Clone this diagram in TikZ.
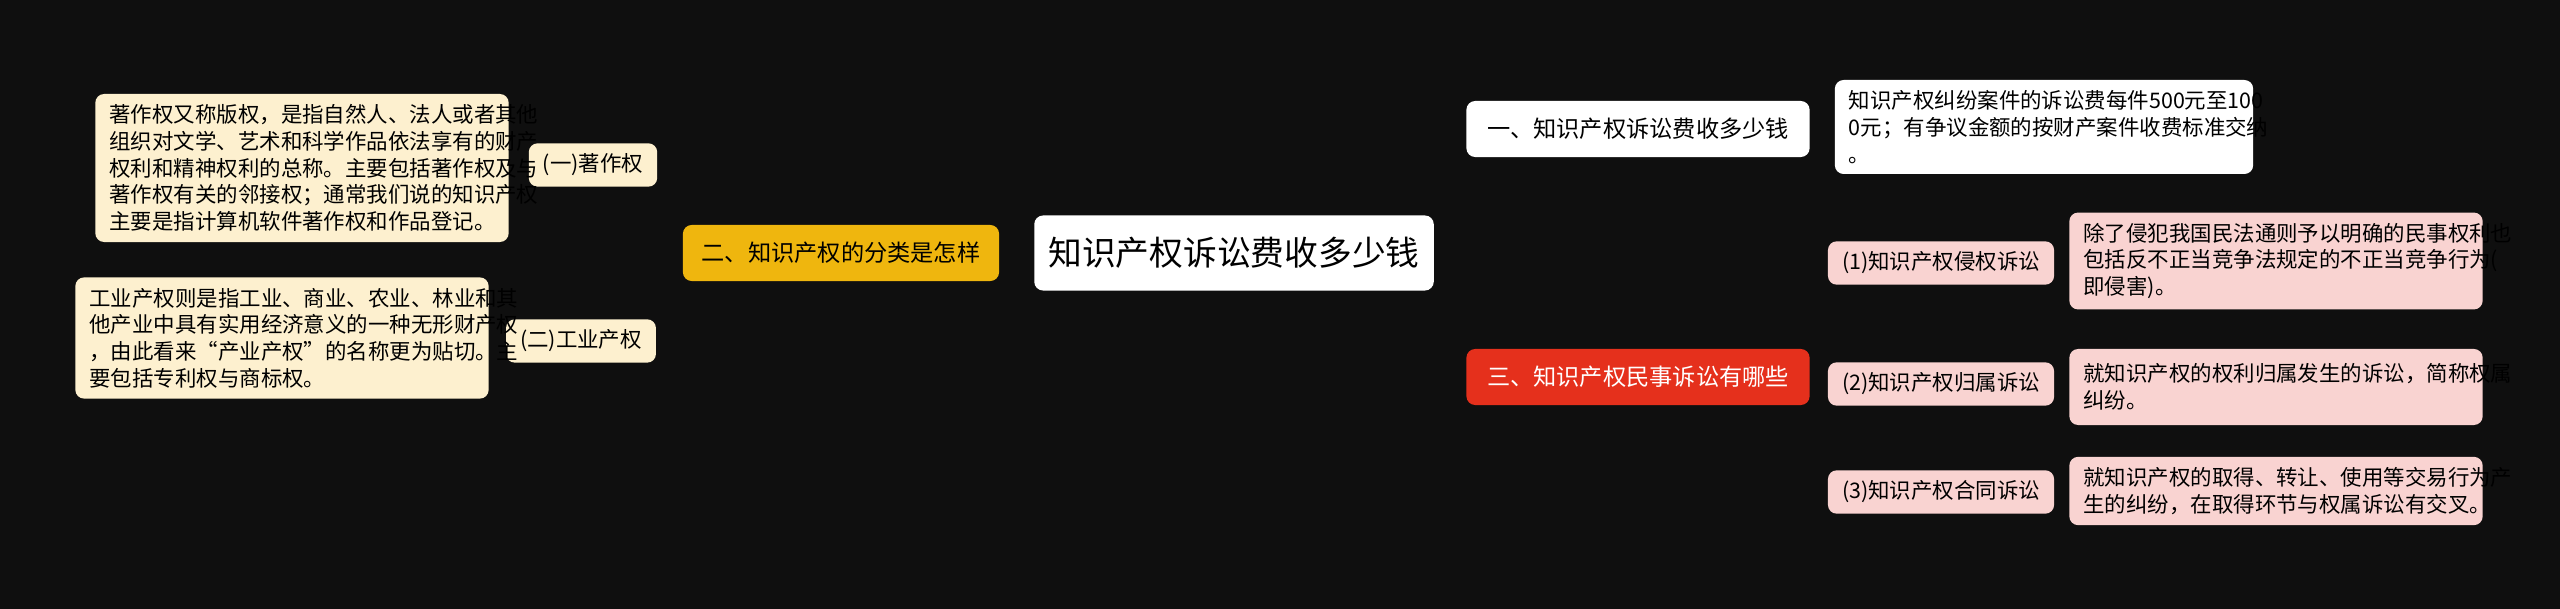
\documentclass[tikz,border=0pt]{standalone}
\usepackage{fontspec}
\setmainfont{Noto Sans CJK SC}
\usetikzlibrary{positioning,backgrounds}
\colorlet{mmBack}{black!94}
\definecolor{mmYellow}{HTML}{EFB60E}
\definecolor{mmYellowLight}{HTML}{FDF0CF}
\definecolor{mmRed}{HTML}{E5301C}
\definecolor{mmPink}{HTML}{F9D3D1}
\definecolor{mmLineY}{HTML}{E2B21E}
\definecolor{mmLineR}{HTML}{D8382A}
\tikzset{
  box/.style={rounded corners=2.5pt, inner xsep=4pt, inner ysep=3pt, font=\fontsize{6.6}{8}\selectfont},
  rootbox/.style={box, fill=white, minimum height=0.75cm, minimum width=3.92cm, font=\fontsize{9.6}{11}\selectfont},
  branchbox/.style={box, minimum height=0.56cm, minimum width=3.43cm},
  subbox/.style={box, minimum height=0.42cm, font=\fontsize{6.1}{7}\selectfont},
  leafbox/.style={box, align=left, text width=3.85cm, font=\fontsize{6.1}{7.6}\selectfont},
  link/.style={line width=1.1pt, rounded corners=4pt}
}
\begin{document}
\begin{tikzpicture}[x=0.01cm, y=0.01cm]
  \fill[mmBack] (0,0) rectangle (2560,609);
  \useasboundingbox (0,0) rectangle (2560,609);
  % centre
  \node[rootbox] (root) at (1234,356) {知识产权诉讼费收多少钱};
  % right side
  \node[branchbox, fill=white] (costs) at (1638,480) {一、知识产权诉讼费收多少钱};
  \node[leafbox, fill=white, text width=3.9cm] (costsNote) at (2044,482) {知识产权纠纷案件的诉讼费每件500元至100\\0元；有争议金额的按财产案件收费标准交纳\\。};
  \node[branchbox, fill=mmRed, text=white] (civil) at (1638,232) {三、知识产权民事诉讼有哪些};
  \node[subbox, fill=mmPink, minimum width=1.99cm] (tort) at (1941,346) {(1)知识产权侵权诉讼};
  \node[subbox, fill=mmPink, minimum width=1.99cm] (owner) at (1941,225) {(2)知识产权归属诉讼};
  \node[subbox, fill=mmPink, minimum width=1.99cm] (contract) at (1941,117) {(3)知识产权合同诉讼};
  \node[leafbox, fill=mmPink] (tortNote) at (2276,348) {除了侵犯我国民法通则予以明确的民事权利也\\包括反不正当竞争法规定的不正当竞争行为(\\即侵害)。};
  \node[leafbox, fill=mmPink, minimum height=0.76cm] (ownerNote) at (2276,222) {就知识产权的权利归属发生的诉讼，简称权属\\纠纷。};
  \node[leafbox, fill=mmPink] (contractNote) at (2276,118) {就知识产权的取得、转让、使用等交易行为产\\生的纠纷，在取得环节与权属诉讼有交叉。};
  % left side
  \node[branchbox, fill=mmYellow, minimum width=3.16cm] (kinds) at (841,356) {二、知识产权的分类是怎样};
  \node[subbox, fill=mmYellowLight, minimum width=1.08cm] (copy) at (593,444) {(一)著作权};
  \node[subbox, fill=mmYellowLight, minimum width=1.31cm] (indus) at (581,268) {(二)工业产权};
  \node[leafbox, fill=mmYellowLight] (copyNote) at (302,441) {著作权又称版权，是指自然人、法人或者其他\\组织对文学、艺术和科学作品依法享有的财产\\权利和精神权利的总称。主要包括著作权及与\\著作权有关的邻接权；通常我们说的知识产权\\主要是指计算机软件著作权和作品登记。};
  \node[leafbox, fill=mmYellowLight] (indusNote) at (282,271) {工业产权则是指工业、商业、农业、林业和其\\他产业中具有实用经济意义的一种无形财产权\\，由此看来“产业产权”的名称更为贴切。主\\要包括专利权与商标权。};
  % connectors
  \begin{scope}[on background layer]
    \fill[mmBack] (0,0) rectangle (2560,609);
    \draw[link, white!85!black] (root.east) -- ++(18,0) |- (costs.west);
    \draw[link, mmLineR] (root.east) -- ++(18,0) |- (civil.west);
    \draw[link, white!85!black] (costs.east) -- (costsNote.west);
    \foreach \s/\n in {tort/tortNote, owner/ownerNote, contract/contractNote} {
      \draw[link, mmLineR] (civil.east) -- ++(16,0) |- (\s.west);
      \draw[link, mmLineR] (\s.east) -- (\n.west);
    }
    \draw[link, mmLineY] (root.west) -- (kinds.east);
    \foreach \s/\n in {copy/copyNote, indus/indusNote} {
      \draw[link, mmLineY] (kinds.west) -- ++(-18,0) |- (\s.east);
      \draw[link, mmLineY] (\s.west) -- (\n.east);
    }
  \end{scope}
\end{tikzpicture}
\end{document}
